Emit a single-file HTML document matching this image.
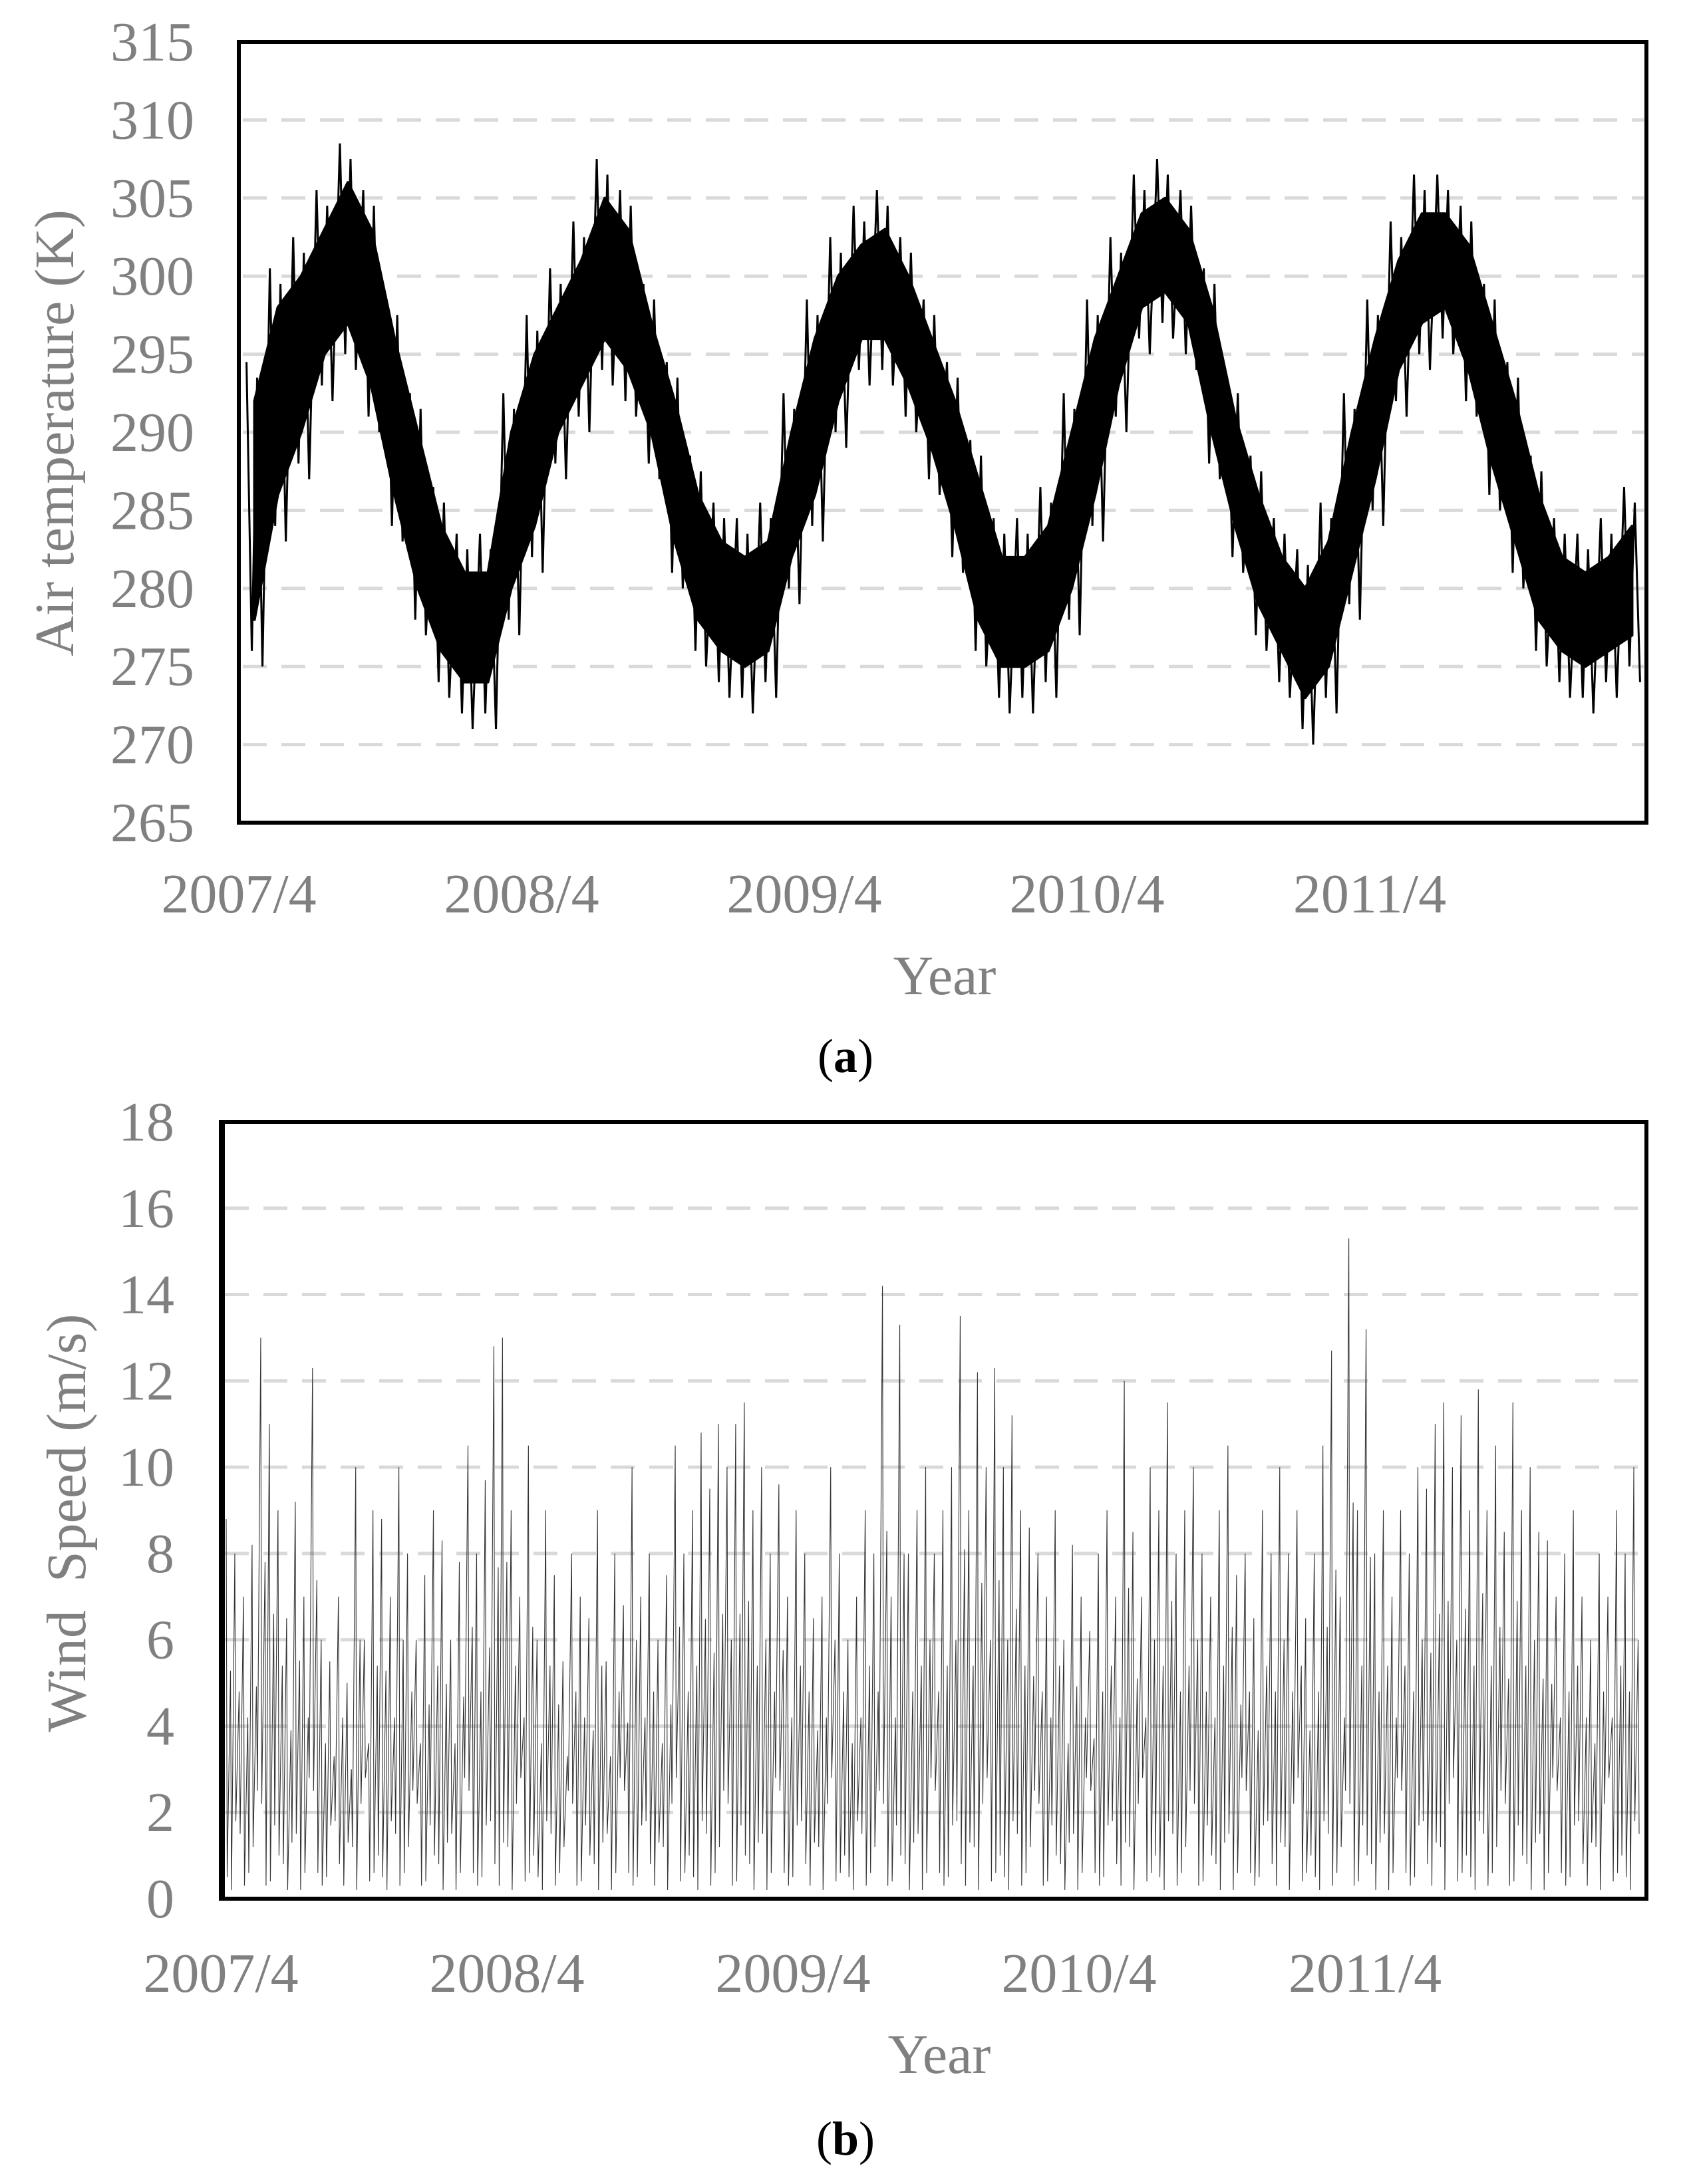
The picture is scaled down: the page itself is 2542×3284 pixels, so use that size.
<!DOCTYPE html>
<html><head><meta charset="utf-8">
<style>
html,body{margin:0;padding:0;background:#fff;}
body{width:2542px;height:3279px;overflow:hidden;font-family:"Liberation Serif",serif;}
text{font-family:"Liberation Serif",serif;}
</style></head>
<body>
<svg id="chart" width="2542" height="3279" viewBox="0 0 2542 3279" xmlns="http://www.w3.org/2000/svg">
<g id="pa"></g>
<g id="pb"></g>
</svg>
<script>
// ---- Panel (a) data: monthly low/high air temperature (K) from 2007/4 ----
const tempLow = [278,286,290,295,297,293,286,280,276,274,274,280,
                 284,290,293,296,294,290,283,278,276,275,276,282,
                 286,292,296,296,293,289,284,278,275,275,276,280,
                 286,293,298,299,297,290,284,279,276,273,275,281,
                 287,294,297,298,294,288,283,278,276,275,276,277];
const tempHigh = [292,298,300,303,306,303,296,290,284,281,281,290,
                  295,298,301,305,303,297,292,286,283,282,283,290,
                  296,300,302,303,300,296,292,287,282,282,284,290,
                  296,300,304,305,303,298,291,286,282,280,283,290,
                  296,301,304,304,302,297,292,286,282,281,282,284];
const tempTicks = [265,270,275,280,285,290,295,300,305,310,315];
const yearLabels = ["2007/4","2008/4","2009/4","2010/4","2011/4"];
// ---- Panel (b) data: wind speed peaks (m/s) ----
const windPeak = [8.8,8,7,8.2,13,11,9,6.5,9.2,7,12.3,6,5.5,7,5,10,6,9,8.8,7,10,8,6,7.5,9,8.3,6,7.8,10.5,8,9.7,12.8,13,9,7,10.5,6,9,7.5,5.5,8,
  7,6.5,9,5.5,8,6.8,10,7,8,6,7.5,10.5,8,9,10.8,9.5,11,10,11,11.5,9,10,8,9.6,7,9,8,6.5,7,10,8,6,7,9,8,14.2,7,13.3,8,9,10,
  8,9,10,13.5,9,12.2,10,12.3,10,11.2,9,8.6,8,7,9,6,8.2,7,6.2,8,9,7,12,8.5,7,10,9,11.5,8,9,10,8,7,9,10.5,7.5,8,6.5,9,8,10,
  8,9,6.5,8,10.5,12.7,7,15.3,9,13.2,8,9,7,9,8,10,9.5,11,11.5,10,11.2,9,11.8,9,10.5,8.5,11.5,9,10,8.5,8.3,7,8,9,7,6,8,7,9,8,10];
const windLow = [0.5,1.8,0.3,1.2,2.2,0.4,1,0.2,1.5,0.6,2.5,0.3,1.7,0.8,1.3,0.2,2.8,0.6];
const windTicks = [0,2,4,6,8,10,12,14,16,18];

const NS="http://www.w3.org/2000/svg";
function mk(tag,attrs,parent){const e=document.createElementNS(NS,tag);for(const k in attrs)e.setAttribute(k,attrs[k]);parent.appendChild(e);return e;}

function panel(g,cfg){
  const {L,R,T,B,ymin,ymax,ticks,labelX,yearStep}=cfg;
  const ys=v=>B-(v-ymin)/(ymax-ymin)*(B-T);
  ticks.forEach(t=>{
    if(t!==ymin&&t!==ymax){
      const l=mk('line',{x1:L+6,x2:R-4,y1:ys(t),y2:ys(t),stroke:'#d9d9d9','stroke-width':5,'stroke-dasharray':'36 22'},g);
      
      
    }
    const tx=mk('text',{x:cfg.tickX,y:ys(t)+28,'text-anchor':'end','font-size':84,fill:'#808080'},g);
    tx.textContent=t;
    
    
  });
  yearLabels.forEach((s,i)=>{
    const tx=mk('text',{x:L+i*yearStep,y:labelX,'text-anchor':'middle','font-size':84,fill:'#808080'},g);
    tx.textContent=s;
    
    
  });
  return ys;
}

// Panel A
(function(){
  const g=document.getElementById('pa');
  const L=359,R=2475,T=63,B=1237;
  const ys=panel(g,{L,R,T,B,ymin:265,ymax:315,ticks:tempTicks,tickX:292,labelX:1372,yearStep:425});
  const n=tempLow.length;
  const xs=i=>L+6+(i+0.5)/n*(R-L-10);
  let pts=[];
  for(let i=0;i<n;i++)pts.push(xs(i)+','+ys(tempHigh[i]));
  for(let i=n-1;i>=0;i--)pts.push(xs(i)+','+ys(tempLow[i]));
  const poly=mk('polygon',{points:pts.join(' '),fill:'#000',stroke:'#000','stroke-width':4,'stroke-linejoin':'round'},g);
  
  
  let zp=[];
  for(let i=0;i<n;i++){
    zp.push((xs(i)-12)+','+ys(tempHigh[i]+2.5));
    zp.push((xs(i)-4)+','+ys(tempLow[i]-2));
    zp.push((xs(i)+4)+','+ys(tempHigh[i]+1.5));
    zp.push((xs(i)+12)+','+ys(tempLow[i]-3));
  }
  const zz=mk('polyline',{points:zp.join(' '),fill:'none',stroke:'#000','stroke-width':3},g);
  
  
  const fr=mk('rect',{x:L,y:T,width:R-L,height:B-T,fill:'none',stroke:'#000','stroke-width':6},g);
  
  
  const yt=mk('text',{x:0,y:0,'text-anchor':'middle','font-size':84,fill:'#808080',transform:'translate(110,651) rotate(-90)'},g);
  yt.textContent='Air temperature (K)';
  
  
  const xt=mk('text',{x:1420,y:1495,'text-anchor':'middle','font-size':84,fill:'#808080'},g);
  xt.textContent='Year';
  
  
  const cap=mk('text',{x:1271,y:1612,'text-anchor':'middle','font-size':72,fill:'#000'},g);
  cap.innerHTML='(<tspan font-weight="bold">a</tspan>)';
  
  
})();

// Panel B
(function(){
  const g=document.getElementById('pb');
  const L=332,R=2475,T=1687,B=2855;
  const ys=panel(g,{L,R,T,B,ymin:0,ymax:18,ticks:windTicks,tickX:262,labelX:2995,yearStep:430});
  const n=windPeak.length;
  const xs=i=>L+8+i/n*(R-L-14);
  let zp=[];
  for(let i=0;i<n;i++){
    zp.push(xs(i)+','+ys(windPeak[i]));
    zp.push((xs(i)+1.5)+','+ys(windLow[i%windLow.length]));
    zp.push((xs(i)+6.5)+','+ys(windPeak[i]*0.6));
    zp.push((xs(i)+8)+','+ys(windLow[(i+7)%windLow.length]));
  }
  const ln=mk('polyline',{points:zp.join(' '),fill:'none',stroke:'#333','stroke-width':1.1},g);
  
  
  const fr=mk('rect',{x:L,y:T,width:R-L,height:B-T,fill:'none',stroke:'#000','stroke-width':6},g);
  
  
  const le=mk('rect',{x:L,y:T,width:6,height:B-T,fill:'#000'},g);
  
  
  const yt=mk('text',{x:0,y:0,'text-anchor':'middle','font-size':84,fill:'#808080',transform:'translate(128,2290) rotate(-90)'},g);
  yt.textContent='Wind\u00a0\u00a0Speed (m/s)';
  
  
  const xt=mk('text',{x:1412,y:3117,'text-anchor':'middle','font-size':84,fill:'#808080'},g);
  xt.textContent='Year';
  
  
  const cap=mk('text',{x:1271,y:3240,'text-anchor':'middle','font-size':72,fill:'#000'},g);
  cap.innerHTML='(<tspan font-weight="bold">b</tspan>)';
  
  
})();
</script>
</body></html>
